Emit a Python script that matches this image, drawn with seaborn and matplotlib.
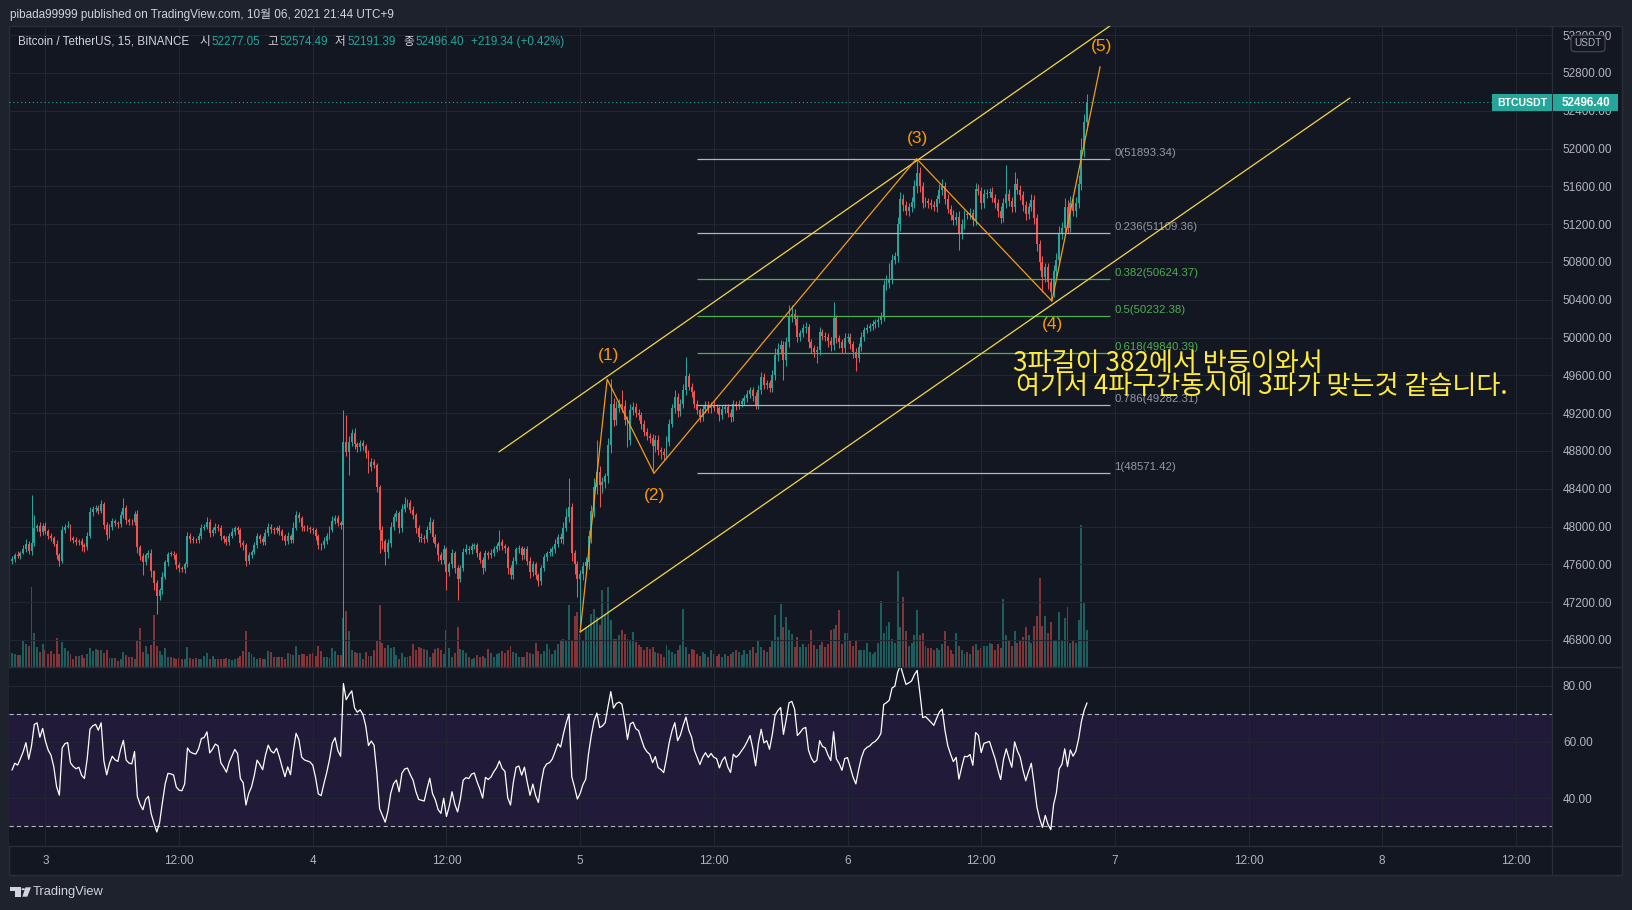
import numpy as np
import pandas as pd
import seaborn as sns
import matplotlib.pyplot as plt
from matplotlib.patches import Rectangle, FancyBboxPatch, Polygon, Circle
from matplotlib.lines import Line2D

# BTCUSDT 15m candles (Binance), Oct 2 21:00 -> Oct 6 21:30
first_open = 47640.0
closes = [
    47660, 47700, 47690, 47725, 47765, 47820, 47745, 47825, 47990, 48005, 47940, 48010,
    47950, 47905, 47880, 47820, 47700, 47640, 47960, 48000, 48010, 47880, 47855, 47840,
    47850, 47800, 47780, 47900, 48150, 48185, 48200, 48170, 48240, 48015, 47910, 48000,
    48060, 48035, 48025, 48120, 48195, 48070, 48050, 48045, 48135, 47780, 47690, 47630,
    47700, 47720, 47525, 47400, 47270, 47330, 47470, 47620, 47715, 47710, 47700, 47590,
    47560, 47555, 47600, 47900, 47870, 47860, 47855, 47900, 47990, 48000, 48050, 47930,
    47960, 48000, 47990, 47895, 47870, 47840, 47900, 47940, 47980, 47960, 47825, 47800,
    47640, 47700, 47735, 47800, 47895, 47870, 47840, 47930, 48000, 47970, 47960, 47990,
    47950, 47900, 47850, 47900, 47860, 47990, 48120, 48090, 48000, 47985, 47980, 47975,
    47960, 47900, 47810, 47800, 47850, 47900, 47965, 48060, 48095, 48040, 48015, 48900,
    48790, 48900, 48990, 48870, 48840, 48880, 48850, 48775, 48630, 48680, 48650, 48420,
    47965, 47850, 47730, 47830, 48000, 48100, 48140, 47990, 48190, 48240, 48250, 48180,
    48120, 47990, 47890, 47880, 47870, 47960, 48050, 47890, 47820, 47700, 47650, 47760,
    47520, 47600, 47720, 47560, 47450, 47560, 47735, 47760, 47750, 47790, 47800, 47720,
    47650, 47560, 47720, 47700, 47720, 47760, 47790, 47840, 47790, 47770, 47560, 47490,
    47640, 47760, 47770, 47700, 47760, 47640, 47520, 47600, 47490, 47420, 47560, 47680,
    47720, 47730, 47760, 47820, 47890, 47870, 47990, 48105, 48210, 47720, 47600, 47450,
    47500, 47580, 47630, 47900, 48160, 48420, 48580, 48440, 48470, 48530, 48860, 49300,
    49130, 49260, 49300, 49280, 49130, 48920, 49230, 49270, 49200, 49180, 49090, 49005,
    48960, 48935, 48850, 48920, 48810, 48790, 48760, 48900, 49090, 49250, 49375, 49220,
    49300, 49450, 49590, 49480, 49420, 49300, 49230, 49160, 49240, 49290, 49250, 49290,
    49260, 49250, 49180, 49240, 49270, 49200, 49160, 49300, 49280, 49300, 49330, 49360,
    49400, 49445, 49380, 49285, 49450, 49580, 49500, 49520, 49470, 49600, 49816, 49880,
    49922, 49763, 49950, 50221, 50250, 50200, 50010, 50050, 50100, 50115, 49950, 49886,
    49850, 49870, 50062, 50020, 50010, 49960, 49922, 50204, 49992, 49950, 49890, 50000,
    50010, 49930, 49847, 49787, 49900, 50007, 50080, 50106, 50120, 50146, 50160, 50186,
    50226, 50553, 50580, 50617, 50824, 50860, 51203, 51462, 51400, 51343, 51380, 51430,
    51600, 51741, 51600, 51422, 51440, 51420, 51400, 51380, 51470, 51560, 51600, 51470,
    51363, 51300, 51243, 51280, 51103, 51203, 51303, 51300, 51320, 51243, 51570, 51550,
    51420, 51520, 51530, 51540, 51480, 51422, 51340, 51263, 51422, 51522, 51450, 51383,
    51630, 51560, 51510, 51400, 51303, 51380, 51454, 51263, 50985, 50800, 50645, 50744,
    50585, 50485, 50705, 50824, 51103, 51163, 51383, 51163, 51420, 51340, 51420, 51630,
    51990, 52277.05, 52496.40,
]
# upper / lower wick length beyond the candle body, in USDT
wick_up = [
    30, 25, 40, 20, 35, 45, 30, 505, 130, 25, 40, 30,
    35, 20, 30, 25, 40, 20, 45, 30, 50, 20, 25, 30,
    20, 30, 25, 40, 60, 35, 25, 30, 45, 20, 30, 25,
    30, 20, 25, 40, 105, 30, 20, 25, 35, 40, 20, 30,
    25, 35, 40, 20, 30, 25, 45, 30, 20, 25, 35, 20,
    30, 25, 20, 45, 30, 25, 20, 35, 40, 30, 50, 25,
    35, 40, 25, 30, 20, 25, 35, 40, 30, 25, 20, 30,
    25, 30, 20, 35, 40, 25, 30, 45, 35, 25, 30, 20,
    30, 25, 20, 40, 25, 60, 45, 30, 25, 20, 30, 25,
    20, 30, 25, 20, 35, 30, 40, 50, 30, 25, 20, 335,
    280, 60, 40, 50, 30, 40, 35, 25, 30, 45, 30, 20,
    25, 40, 20, 35, 45, 30, 40, 25, 50, 70, 40, 30,
    35, 25, 30, 40, 30, 45, 50, 25, 30, 20, 35, 40,
    25, 30, 40, 20, 30, 35, 40, 60, 30, 35, 25, 30,
    20, 30, 35, 25, 40, 30, 35, 124, 30, 25, 20, 30,
    35, 25, 30, 20, 25, 30, 35, 40, 25, 20, 35, 30,
    25, 40, 30, 45, 35, 40, 60, 90, 300, 40, 30, 35,
    40, 50, 45, 60, 70, 90, 336, 60, 50, 40, 80, 260,
    60, 70, 50, 145, 60, 40, 70, 50, 40, 45, 30, 40,
    35, 30, 40, 50, 45, 30, 40, 60, 50, 45, 70, 40,
    45, 60, 208, 40, 35, 30, 40, 25, 50, 40, 35, 30,
    40, 35, 30, 45, 30, 25, 40, 35, 30, 40, 35, 30,
    40, 35, 30, 45, 50, 60, 40, 35, 30, 60, 70, 60,
    50, 40, 60, 124, 95, 50, 40, 35, 45, 50, 30, 40,
    35, 40, 50, 30, 35, 40, 45, 176, 40, 35, 30, 45,
    40, 35, 30, 40, 45, 50, 35, 40, 30, 35, 40, 30,
    40, 60, 80, 167, 60, 50, 70, 80, 60, 50, 45, 60,
    70, 152.34, 60, 50, 45, 40, 50, 45, 40, 60, 80, 50,
    45, 40, 50, 45, 60, 50, 45, 40, 50, 40, 70, 50,
    40, 50, 45, 40, 50, 40, 45, 50, 60, 307, 50, 40,
    120, 60, 50, 40, 50, 45, 60, 50, 40, 45, 60, 50,
    45, 50, 60, 70, 80, 60, 90, 70, 80, 60, 70, 90,
    120, 90, 78.09,
]
wick_dn = [
    40, 30, 25, 35, 20, 30, 40, 45, 30, 35, 40, 25,
    30, 40, 35, 30, 45, 60, 30, 25, 20, 35, 30, 40,
    35, 60, 50, 30, 25, 40, 30, 35, 25, 40, 50, 30,
    35, 30, 40, 30, 25, 40, 35, 30, 25, 60, 40, 140,
    35, 30, 60, 70, 190, 50, 40, 30, 35, 25, 40, 35,
    40, 35, 50, 30, 40, 35, 30, 25, 35, 30, 25, 40,
    30, 25, 35, 40, 45, 35, 30, 25, 30, 35, 40, 45,
    60, 40, 35, 30, 25, 40, 35, 30, 25, 40, 35, 30,
    35, 40, 45, 30, 35, 30, 25, 40, 45, 35, 30, 40,
    35, 40, 50, 45, 30, 35, 30, 25, 30, 35, 40, 1615,
    40, 244, 50, 45, 50, 40, 35, 45, 60, 40, 35, 50,
    248, 90, 136, 60, 50, 35, 40, 60, 45, 40, 35, 40,
    45, 60, 50, 40, 45, 35, 30, 50, 40, 60, 50, 45,
    190, 40, 35, 50, 227, 40, 35, 30, 40, 35, 30, 45,
    40, 60, 35, 40, 30, 35, 30, 40, 35, 45, 60, 50,
    45, 40, 35, 50, 40, 45, 60, 40, 50, 45, 40, 35,
    40, 35, 45, 40, 35, 45, 50, 40, 60, 80, 100, 190,
    565, 70, 60, 80, 70, 60, 80, 230, 90, 60, 70, 80,
    70, 60, 50, 70, 60, 80, 60, 50, 45, 50, 60, 50,
    40, 50, 286, 60, 50, 70, 60, 50, 45, 40, 50, 60,
    50, 45, 60, 40, 50, 45, 40, 50, 45, 40, 50, 45,
    40, 45, 60, 40, 35, 45, 50, 40, 45, 40, 35, 40,
    45, 40, 50, 45, 40, 50, 45, 40, 50, 45, 50, 60,
    50, 212, 60, 50, 60, 70, 60, 50, 45, 50, 60, 50,
    60, 123, 50, 45, 50, 55, 60, 50, 45, 60, 55, 50,
    45, 50, 60, 139, 50, 45, 40, 35, 40, 35, 40, 45,
    40, 50, 45, 60, 50, 45, 60, 70, 60, 50, 55, 50,
    60, 70, 60, 50, 45, 50, 40, 45, 50, 45, 50, 55,
    50, 60, 55, 50, 179, 60, 50, 45, 50, 60, 50, 45,
    55, 50, 45, 40, 50, 55, 60, 50, 45, 50, 60, 55,
    50, 45, 55, 60, 55, 50, 45, 60, 70, 90, 160, 60,
    70, 99, 60, 55, 50, 60, 55, 60, 50, 55, 60, 50,
    70, 80, 85.66,
]
volume = [
    340, 310, 295, 295, 660, 555, 520, 1960, 830, 490, 370, 560,
    410, 310, 390, 310, 700, 310, 610, 465, 390, 310, 190, 270,
    270, 295, 230, 310, 465, 390, 450, 415, 425, 350, 415, 230,
    230, 210, 150, 190, 370, 285, 255, 255, 190, 660, 955, 370,
    515, 310, 540, 1275, 515, 390, 295, 465, 255, 255, 230, 205,
    230, 205, 190, 490, 230, 205, 230, 205, 205, 270, 340, 205,
    270, 190, 190, 205, 205, 230, 190, 165, 205, 230, 270, 390,
    880, 370, 310, 255, 205, 230, 205, 205, 390, 370, 255, 255,
    255, 255, 205, 340, 310, 285, 505, 295, 310, 310, 270, 325,
    350, 270, 505, 390, 245, 245, 230, 460, 390, 295, 295, 1200,
    1370, 880, 410, 370, 340, 340, 190, 370, 270, 270, 410, 660,
    1520, 580, 475, 530, 475, 480, 295, 205, 335, 255, 255, 270,
    555, 425, 480, 460, 450, 425, 255, 340, 435, 460, 425, 310,
    905, 460, 255, 340, 980, 450, 425, 340, 255, 190, 230, 285,
    255, 270, 230, 435, 340, 255, 310, 340, 390, 340, 425, 505,
    375, 340, 255, 255, 255, 370, 340, 310, 580, 390, 310, 390,
    555, 435, 310, 415, 555, 670, 685, 660, 1510, 640, 1250, 1355,
    820, 650, 980, 1020, 1310, 1430, 1225, 1020, 1880, 1310, 1960, 1145,
    695, 695, 775, 900, 820, 695, 655, 860, 610, 530, 490, 410,
    490, 450, 490, 370, 345, 325, 245, 530, 410, 370, 325, 410,
    530, 1430, 490, 325, 450, 410, 325, 260, 370, 325, 245, 410,
    325, 260, 325, 245, 325, 260, 325, 370, 425, 370, 285, 410,
    325, 410, 490, 345, 670, 490, 410, 370, 490, 655, 1265, 735,
    1535, 980, 1225, 900, 820, 490, 735, 490, 570, 490, 570, 900,
    530, 450, 530, 610, 490, 570, 900, 940, 1020, 1385, 555, 830,
    830, 645, 510, 645, 415, 415, 415, 600, 370, 325, 370, 600,
    1615, 830, 1015, 1110, 690, 600, 2355, 970, 1710, 875, 510, 600,
    785, 1385, 785, 830, 510, 460, 460, 415, 460, 415, 555, 875,
    510, 415, 325, 830, 510, 415, 325, 370, 325, 510, 555, 415,
    460, 510, 510, 600, 555, 415, 555, 460, 1660, 785, 645, 510,
    875, 600, 645, 740, 970, 785, 600, 1015, 1245, 2170, 1015, 1245,
    830, 1110, 645, 645, 1340, 645, 1200, 1475, 600, 645, 600, 1155,
    3480, 1570, 900,
]
rsi_period = 14
rsi_seed = 30.0

day_labels = ["3", "12:00", "4", "12:00", "5", "12:00", "6", "12:00", "7", "12:00", "8", "12:00"]
price_ticks = list(range(46800, 53201, 400))
rsi_ticks = [40, 60, 80]
change_text = "+219.34 (+0.42%)"

# drawing tools (bar index, price)
wave_names = ["", "(1)", "(2)", "(3)", "(4)", "(5)"]
wave_bar = [204, 213.7, 230.5, 324.8, 373.4, 390.7]
wave_price = [46885, 49560, 48564, 51893, 50386, 52867]
wave_label_dy = [0, 24, -22, 20, -23, 20]
chan_up_bar, chan_up_price = [174.8, 394.2], [48789, 53297]
chan_lo_bar, chan_lo_price = [204, 480.4], [46885, 52535]
fib_ratio = [0, 0.236, 0.382, 0.5, 0.618, 0.786, 1]
fib_price = [51893.34, 51109.36, 50624.37, 50232.38, 49840.39, 49282.31, 48571.42]
fib_span = [245.9, 394.3]
note_lines = ["3파길이 382에서 반등이와서", "여기서 4파구간동시에 3파가 맞는것 같습니다."]
note_at = [(359.5, 49730), (360.6, 49480)]

# ---- colours ----
BG, OUTER, GRID, SEP = "#131722", "#1e222d", "#222631", "#2a2e39"
TXT, UP, DN = "#b2b5be", "#26a69a", "#ef5350"
W, H = 1633, 910

sns.set_theme(style="dark", rc={"axes.facecolor": BG, "figure.facecolor": OUTER})
plt.rcParams["font.family"] = ["Liberation Sans", "Noto Sans CJK KR"]

N = len(closes)
xs = np.arange(N)
c = np.array(closes, dtype=float)
o = np.concatenate([[first_open], c[:-1]])
hi = np.maximum(o, c) + np.array(wick_up)
lo = np.minimum(o, c) - np.array(wick_dn)
cols = np.where(c >= o, UP, DN)

# RSI (Wilder)
ag = al = rsi_seed
rsi = [50.0]
for k in range(1, N):
    d = c[k] - c[k - 1]
    ag = (ag * (rsi_period - 1) + max(d, 0)) / rsi_period
    al = (al * (rsi_period - 1) + max(-d, 0)) / rsi_period
    rsi.append(100 - 100 / (1 + ag / al))
rsi_df = pd.DataFrame({"bar": xs, "rsi": rsi})

fig = plt.figure(figsize=(W / 100, H / 100), dpi=100, facecolor=OUTER)


def rect(x0, y0, x1, y1):
    return [x0 / W, 1 - y1 / H, (x1 - x0) / W, (y1 - y0) / H]


def ftext(x, y, s, **kw):
    kw.setdefault("va", "center")
    kw.setdefault("ha", "left")
    return fig.text(x / W, 1 - y / H, s, **kw)


def fbox(x0, y0, x1, y1, **kw):
    fig.add_artist(Rectangle((x0 / W, 1 - y1 / H), (x1 - x0) / W, (y1 - y0) / H,
                             transform=fig.transFigure, **kw))


def fline(x0, y0, x1, y1):
    fig.add_artist(Line2D([x0 / W, x1 / W], [1 - y0 / H, 1 - y1 / H], color=SEP, lw=1,
                          transform=fig.transFigure, zorder=5))


fbox(9, 26, 1622, 875, facecolor=BG, edgecolor=SEP, lw=1, zorder=-1)

xlim = (-1.08, 552.96)
tick_pos = [12 + 48 * k for k in range(len(day_labels))]

# volume (own axes, behind price)
ax_vol = fig.add_axes(rect(9, 26, 1552, 667))
ax_vol.set_facecolor(BG)
ax_vol.bar(xs, volume, width=0.7, color=cols, alpha=0.5, linewidth=0)
ax_vol.set_xlim(*xlim)
ax_vol.set_ylim(0, 15710)
ax_vol.axis("off")

# price pane
ax = fig.add_axes(rect(9, 26, 1552, 667))
ax.set_facecolor("none")
ax.set_xlim(*xlim)
ax.set_ylim(46514, 53297)
ax.set_xticks(tick_pos)
ax.set_yticks(price_ticks)
ax.set_yticklabels([f"{v:.2f}" for v in price_ticks])
ax.yaxis.tick_right()
ax.tick_params(axis="y", length=0, pad=7.9, labelsize=8.5, labelcolor=TXT)
ax.tick_params(axis="x", length=0, labelbottom=False)
ax.grid(True, color=GRID, lw=0.75, zorder=0)
for s in ax.spines.values():
    s.set_visible(False)

ax.vlines(xs, lo, hi, colors=cols, lw=0.75, zorder=3)
ax.bar(xs, np.maximum(np.abs(c - o), 8), bottom=np.minimum(o, c), width=0.7,
       color=cols, linewidth=0, zorder=4)

ax.axhline(c[-1], color=UP, ls=(0, (1, 2.5)), lw=0.8, zorder=2)

# fibonacci retracement
fib_cols = ["#b2b5be" if r in (0, 0.236, 0.786, 1) else "#4caf50" for r in fib_ratio]
fib_txt = ["#9598a1" if r in (0, 0.236, 0.786, 1) else "#4caf50" for r in fib_ratio]
ax.hlines(fib_price, fib_span[0], fib_span[1], colors=fib_cols, lw=0.9, zorder=5)
for r, p, tc in zip(fib_ratio, fib_price, fib_txt):
    ax.annotate(f"{r}({p:.2f})", xy=(fib_span[1], p), xytext=(4, 1), textcoords="offset pixels",
                ha="left", va="bottom", fontsize=8.2, color=tc, zorder=6)

# channel and waves
for b, p in ((chan_up_bar, chan_up_price), (chan_lo_bar, chan_lo_price)):
    ax.plot(b, p, color="#f5d742", lw=0.9, zorder=6)
sns.lineplot(x=wave_bar, y=wave_price, ax=ax, sort=False, estimator=None,
             color="#f39c12", lw=0.9, zorder=6)
for name, b, p, dy in zip(wave_names, wave_bar, wave_price, wave_label_dy):
    if name:
        ax.annotate(name, xy=(b, p), xytext=(1, dy), textcoords="offset pixels",
                    ha="center", va="center", fontsize=12.5, color="#ff9800", zorder=7)

for line, (b, p) in zip(note_lines, note_at):
    ax.text(b, p, line, fontsize=18.8, color="#ffeb3b", ha="left", va="center",
            family=["Noto Sans CJK KR", "DejaVu Sans"], weight="medium", zorder=8)
ax.set_xlabel("")
ax.set_ylabel("")

# RSI pane
ax_rsi = fig.add_axes(rect(9, 667, 1552, 846))
ax_rsi.set_facecolor(BG)
ax_rsi.axhspan(30, 70, color="#211a38", lw=0, zorder=0)
for lvl in (70, 30):
    ax_rsi.axhline(lvl, color="#b2b5be", ls=(0, (3.9, 2.7)), lw=0.8, zorder=2)
sns.lineplot(data=rsi_df, x="bar", y="rsi", ax=ax_rsi, color="#ffffff", lw=0.9, zorder=3)
ax_rsi.set_xlim(*xlim)
ax_rsi.set_ylim(23.05, 86.6)
ax_rsi.set_yticks(rsi_ticks)
ax_rsi.set_yticklabels([f"{v:.2f}" for v in rsi_ticks])
ax_rsi.yaxis.tick_right()
ax_rsi.set_xticks(tick_pos)
ax_rsi.set_xticklabels(day_labels)
ax_rsi.tick_params(axis="y", length=0, pad=7.9, labelsize=8.5, labelcolor=TXT)
ax_rsi.tick_params(axis="x", length=0, pad=6.3, labelsize=8.5, labelcolor=TXT)
ax_rsi.grid(True, color=GRID, lw=0.75, zorder=0)
ax_rsi.set_xlabel("")
ax_rsi.set_ylabel("")
for s in ax_rsi.spines.values():
    s.set_visible(False)

# pane separators
fline(9, 667, 1622, 667)
fline(9, 846, 1622, 846)
fline(1552, 26, 1552, 875)

# header texts
ftext(10, 14.6, "pibada99999 published on TradingView.com, 10월 06, 2021 21:44 UTC+9",
      fontsize=8.5, color="#d1d4dc")
ftext(18, 41.7, "Bitcoin / TetherUS, 15, BINANCE", fontsize=8.4, color="#d1d4dc")
ohlc_lab = ["시", "고", "저", "종"]
ohlc_val = [o[-1], hi[-1], lo[-1], c[-1]]
for k, (lab, v) in enumerate(zip(ohlc_lab, ohlc_val)):
    x0 = 199 + 68 * k
    ftext(x0, 41.7, lab, fontsize=8.4, color="#d1d4dc")
    ftext(x0 + 12, 41.7, f"{v:.2f}", fontsize=8.4, color=UP)
ftext(471, 41.7, change_text, fontsize=8.4, color=UP)

# right-side badges
fig.add_artist(FancyBboxPatch((1571 / W, 1 - 51.7 / H), 34 / W, 16.5 / H,
                              boxstyle="round,pad=0,rounding_size=0.003",
                              transform=fig.transFigure, facecolor=BG, edgecolor="#434651",
                              lw=0.9, zorder=6))
ftext(1588, 43.5, "USDT", fontsize=7.2, color=TXT, ha="center", zorder=7)
fbox(1492, 94, 1552, 110.7, facecolor=UP, lw=0, zorder=6)
ftext(1522, 102.5, "BTCUSDT", fontsize=7.6, color="white", weight="bold", ha="center", zorder=7)
fbox(1553, 94, 1618, 110.7, facecolor=UP, lw=0, zorder=6)
ftext(1585.5, 102.5, f"{c[-1]:.2f}", fontsize=8.4, color="white", weight="bold",
      ha="center", zorder=7)

# footer logo
LOGO = "#d1d4dc"
fbox(10, 887.3, 20.7, 890.7, facecolor=LOGO, lw=0, zorder=6)
fbox(15.5, 887.3, 20.7, 896.7, facecolor=LOGO, lw=0, zorder=6)
fig.add_artist(Circle((23.2 / W, 1 - 889.2 / H), 1.8 / W, transform=fig.transFigure,
                      facecolor=LOGO, lw=0, zorder=6))
fig.add_artist(Polygon([(25.5 / W, 1 - 887.3 / H), (31 / W, 1 - 887.3 / H),
                        (27.3 / W, 1 - 896.7 / H), (22.3 / W, 1 - 896.7 / H)],
                       transform=fig.transFigure, facecolor=LOGO, lw=0, zorder=6))
ftext(33, 892, "TradingView", fontsize=9.3, color=LOGO)

fig.savefig("out.png", dpi=100, facecolor=OUTER)
